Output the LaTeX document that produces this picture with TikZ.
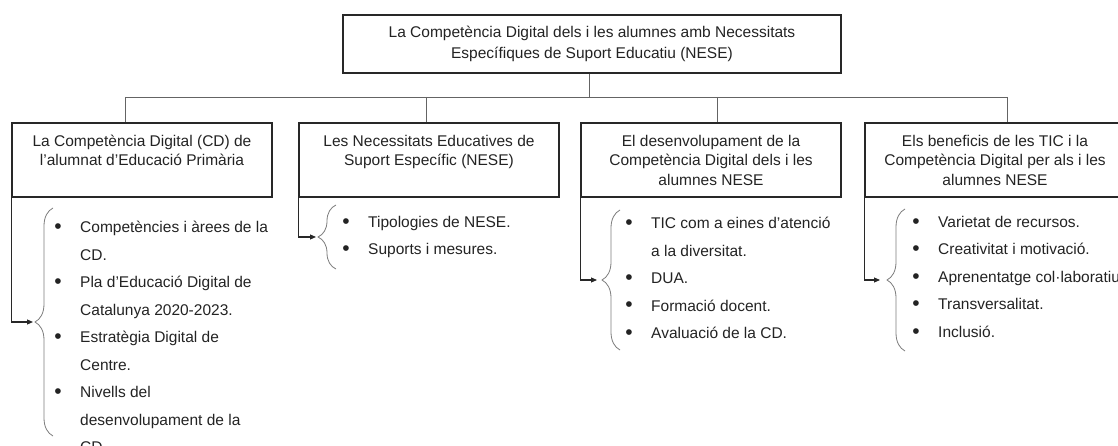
\documentclass[tikz,border=0pt]{standalone}
\usepackage{fontspec}
\setmainfont{Liberation Sans}
\usetikzlibrary{arrows.meta,decorations.pathreplacing}
\definecolor{ink}{RGB}{35,35,35}
\definecolor{boxline}{RGB}{40,40,40}
\definecolor{busline}{RGB}{100,100,100}
\definecolor{bracecol}{RGB}{125,125,125}
\begin{document}
\begin{tikzpicture}[x=1pt,y=-1pt,
  every node/.style={text=ink},
  topbox/.style={draw=boxline, line width=1.1pt, minimum width=498pt, minimum height=58pt,
    inner sep=0pt, align=center, font=\fontsize{15.5pt}{20.5pt}\selectfont},
  headbox/.style={draw=boxline, line width=1.1pt, minimum width=260pt, minimum height=74pt,
    inner sep=0pt, align=center, font=\fontsize{15.5pt}{19.5pt}\selectfont},
  itemlist/.style={anchor=north west, inner sep=0pt, align=left,
    font=\fontsize{15.5pt}{27.5pt}\selectfont},
  bus/.style={draw=busline, line width=0.9pt},
  feed/.style={draw=boxline, line width=1.1pt, -{Triangle[length=6pt,width=5pt]}},
  bracepath/.style={draw=bracecol, line width=0.8pt, decorate,
    decoration={brace, amplitude=18pt}}
]
\useasboundingbox (0,0) rectangle (1118,446);
\clip (0,0) rectangle (1118,446);
\newcommand{\itm}{\llap{\raisebox{-0.6pt}{\fontsize{21pt}{21pt}\selectfont\textbullet}\hspace{18.5pt}}}

% top node
\node[topbox] (top) at (592,44) {La Competència Digital dels i les alumnes amb Necessitats\\Específiques de Suport Educatiu (NESE)};

% header boxes
\node[headbox] (h1) at (142,160) {La Competència Digital (CD) de\\l’alumnat d’Educació Primària\\\mbox{}};
\node[headbox] (h2) at (429,160) {Les Necessitats Educatives de\\Suport Específic (NESE)\\\mbox{}};
\node[headbox] (h3) at (711,160) {El desenvolupament de la\\Competència Digital dels i les\\alumnes NESE};
\node[headbox] (h4) at (995,160) {Els beneficis de les TIC i la\\Competència Digital per als i les\\alumnes NESE};

% bus
\coordinate (b0) at (589,97);
\coordinate (b1) at (125,97);
\coordinate (b2) at (426,97);
\coordinate (b3) at (717,97);
\coordinate (b4) at (1007,97);
\draw[bus] (b0 |- top.south) -- (b0);
\draw[bus] (b1) -- (b4);
\draw[bus] (b1) -- (b1 |- h1.north);
\draw[bus] (b2) -- (b2 |- h2.north);
\draw[bus] (b3) -- (b3 |- h3.north);
\draw[bus] (b4) -- (b4 |- h4.north);

% lists
\node[itemlist] (l1) at (80,221) {\itm Competències i àrees de la\\CD.\\\itm Pla d’Educació Digital de\\Catalunya 2020-2023.\\\itm Estratègia Digital de\\Centre.\\\itm Nivells del\\desenvolupament de la\\CD.};
\node[itemlist] (l2) at (368,216) {\itm Tipologies de NESE.\\\itm Suports i mesures.};
\node[itemlist] (l3) at (651,217) {\itm TIC com a eines d’atenció\\a la diversitat.\\\itm DUA.\\\itm Formació docent.\\\itm Avaluació de la CD.};
\node[itemlist] (l4) at (938,216) {\itm Varietat de recursos.\\\itm Creativitat i motivació.\\\itm Aprenentatge col·laboratiu\\\itm Transversalitat.\\\itm Inclusió.};

% braces
\draw[bracepath] (53,436) -- (53,208);
\draw[bracepath] (336,269) -- (336,205);
\draw[bracepath] (620,350) -- (620,210);
\draw[bracepath] (905,351) -- (905,209);

% feeds
\coordinate (a1) at (33,322);
\coordinate (a2) at (316,237);
\coordinate (a3) at (597,280);
\coordinate (a4) at (880,280);
\draw[feed] (h1.south west) |- (a1);
\draw[feed] (h2.south west) |- (a2);
\draw[feed] (h3.south west) |- (a3);
\draw[feed] (h4.south west) |- (a4);
\end{tikzpicture}
\end{document}
